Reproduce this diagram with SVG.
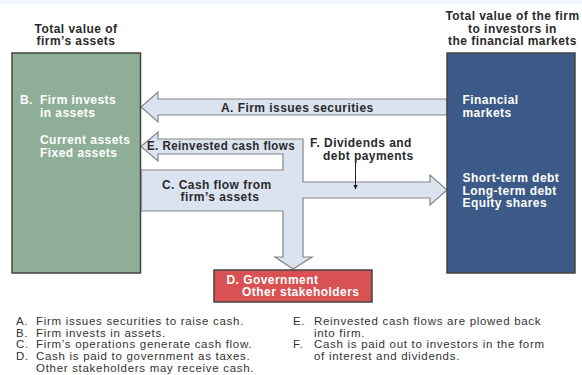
<svg xmlns="http://www.w3.org/2000/svg" width="582" height="375" viewBox="0 0 582 375">
<defs>
<style>
.t{font-family:"Liberation Sans",Arial,sans-serif;font-weight:bold;font-size:12px;letter-spacing:0.45px;fill:#2a2a2a}
.w{font-family:"Liberation Sans",Arial,sans-serif;font-weight:bold;font-size:12px;letter-spacing:0.45px;fill:#ffffff}
.lg{font-family:"Liberation Sans",Arial,sans-serif;font-size:11.5px;letter-spacing:0.7px;fill:#333333}
.flow{fill:#dbe2f0;stroke:#858585;stroke-width:1.2}
.box{stroke:#444444;stroke-width:1.5}
</style>
<marker id="ah" viewBox="0 0 10 10" refX="9" refY="5" markerWidth="5" markerHeight="6" orient="auto" markerUnits="userSpaceOnUse">
<path d="M0,0 L10,5 L0,10 Z" fill="#222"/>
</marker>
</defs>
<rect x="0" y="0" width="582" height="375" fill="#ffffff"/>
<rect x="0" y="0" width="582" height="4.5" fill="#f2f6fa"/>

<g id="connectors">
<path id="flowA" class="flow" d="M141,107 L158,92 L158,99 L447,99 L447,115 L158,115 L158,122 Z"/>
<path id="flowCEF" class="flow" d="M141,146.5 L158,132 L158,139 L303,139 L303,182 L430,182 L430,175 L447,190 L430,205 L430,198 L303,198 L303,257 L312,257 L293,269 L275,257 L283,257 L283,211 L141,211 L141,170 L283,170 L283,154 L158,154 L158,161 Z"/>
<line x1="355.5" y1="163" x2="355.5" y2="189" stroke="#222" stroke-width="1" marker-end="url(#ah)"/>
<text class="t" x="221" y="111.5">A. Firm issues securities</text>
<text class="t" x="147" y="150" textLength="148" lengthAdjust="spacingAndGlyphs">E. Reinvested cash flows</text>
<text class="t" x="310" y="147">F. Dividends and</text>
<text class="t" x="323" y="160">debt payments</text>
<text class="t" x="162" y="188.5">C. Cash flow from</text>
<text class="t" x="180.5" y="201">firm’s assets</text>
</g>

<g id="assets">
<text class="t" x="76" y="32.5" text-anchor="middle">Total value of</text>
<text class="t" x="76" y="45" text-anchor="middle">firm’s assets</text>
<rect class="box" x="12" y="53" width="128.5" height="220" fill="#8fae97"/>
<text class="w" x="20" y="104">B.</text>
<text class="w" x="40" y="104">Firm invests</text>
<text class="w" x="40" y="117">in assets</text>
<text class="w" x="40" y="144">Current assets</text>
<text class="w" x="40" y="157">Fixed assets</text>
</g>

<g id="markets">
<text class="t" x="512.5" y="19.5" text-anchor="middle">Total value of the firm</text>
<text class="t" x="512.5" y="32.5" text-anchor="middle">to investors in</text>
<text class="t" x="512.5" y="45" text-anchor="middle">the financial markets</text>
<rect class="box" x="447" y="53" width="128" height="220" fill="#3c5a87"/>
<text class="w" x="462.5" y="104">Financial</text>
<text class="w" x="462.5" y="117">markets</text>
<text class="w" x="462.5" y="182">Short-term debt</text>
<text class="w" x="462.5" y="194.5">Long-term debt</text>
<text class="w" x="462.5" y="207">Equity shares</text>
</g>

<g id="government">
<rect class="box" x="214" y="270" width="158" height="32" fill="#d95152"/>
<text class="w" x="226.5" y="283.5">D. Government</text>
<text class="w" x="242" y="296">Other stakeholders</text>
</g>

<g id="legend">
<text class="lg" x="16" y="325">A.</text><text class="lg" x="36" y="325">Firm issues securities to raise cash.</text>
<text class="lg" x="16" y="336.7">B.</text><text class="lg" x="36" y="336.7">Firm invests in assets.</text>
<text class="lg" x="16" y="348.4">C.</text><text class="lg" x="36" y="348.4">Firm’s operations generate cash flow.</text>
<text class="lg" x="16" y="360.1">D.</text><text class="lg" x="36" y="360.1">Cash is paid to government as taxes.</text>
<text class="lg" x="36" y="371.8">Other stakeholders may receive cash.</text>
<text class="lg" x="293" y="325">E.</text><text class="lg" x="314" y="325">Reinvested cash flows are plowed back</text>
<text class="lg" x="314" y="336.7">into firm.</text>
<text class="lg" x="293" y="348.4">F.</text><text class="lg" x="314" y="348.4">Cash is paid out to investors in the form</text>
<text class="lg" x="314" y="360.1">of interest and dividends.</text>
</g>
</svg>
